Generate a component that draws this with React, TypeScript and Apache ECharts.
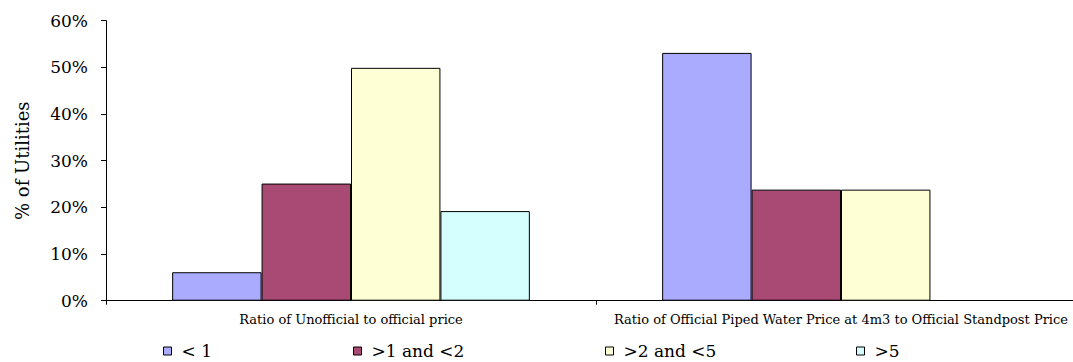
import React, { useEffect, useRef } from "react";
import * as echarts from "echarts";

const categories = [
  "Ratio of Unofficial to official price",
  "Ratio of Official Piped Water Price at 4m3 to Official Standpost Price",
];
const seriesNames = ["< 1", ">1 and <2", ">2 and <5", ">5"];
const lessThan1 = [6.1, 53.1];
const between1and2 = [25.1, 23.8];
const between2and5 = [49.9, 23.8];
const above5 = [19.2, 0];
const yTicks = [0, 10, 20, 30, 40, 50, 60];

const colors = ["#AAAAFF", "#A94A74", "#FFFFD5", "#D5FFFF"];
const FONT = "DejaVu Serif";

export default function App() {
  const ref = useRef<HTMLDivElement>(null);
  useEffect(() => {
    if (!ref.current) return;
    const chart = echarts.init(ref.current, undefined, { renderer: "svg" });
    const values = [lessThan1, between1and2, between2and5, above5];
    const legendLefts = [163, 353, 605, 856];
    chart.setOption({
      animation: false,
      textStyle: { fontFamily: FONT, color: "#000" },
      grid: { left: 106, top: 20.7, bottom: 61.3, right: 0, containLabel: false },
      legend: seriesNames.map((n, i) => ({
        data: [n],
        left: legendLefts[i],
        top: 342,
        icon: "rect",
        itemWidth: 8,
        itemHeight: 8,
        itemGap: 5,
        padding: 0,
        textStyle: { fontFamily: FONT, fontSize: 17, lineHeight: 17, color: "#000", padding: [1, 0, 0, 5] },
        itemStyle: { borderColor: "#000", borderWidth: 1 },
      })),
      xAxis: {
        type: "category",
        data: categories,
        axisLine: { lineStyle: { color: "#000", width: 1 } },
        axisTick: { show: true, length: 4, lineStyle: { color: "#000" } },
        axisLabel: { fontFamily: FONT, fontSize: 13, color: "#000", margin: 12, interval: 0, hideOverlap: false },
      },
      yAxis: {
        type: "value",
        min: 0,
        max: 60,
        interval: 10,
        name: "% of Utilities",
        nameLocation: "middle",
        nameGap: 75,
        nameTextStyle: { fontFamily: FONT, fontSize: 18, color: "#000" },
        axisLine: { show: true, lineStyle: { color: "#000", width: 1 } },
        axisTick: { show: true, length: 5, lineStyle: { color: "#000" } },
        splitLine: { show: false },
        axisLabel: {
          fontFamily: FONT,
          fontSize: 17,
          color: "#000",
          margin: 18,
          formatter: (v: number) => (yTicks.includes(v) ? v + "%" : ""),
        },
      },
      series: seriesNames.map((n, i) => ({
        name: n,
        type: "bar",
        data: values[i].map((v) => (v === 0 ? "-" : v)),
        barGap: "0%",
        barCategoryGap: "27%",
        itemStyle: { color: colors[i], borderColor: "#000", borderWidth: 1 },
      })),
    });
    return () => chart.dispose();
  }, []);
  return (
    <div style={{ position: "absolute", left: 0, top: 0, width: 1073, height: 362, overflow: "hidden", background: "#fff" }}>
      <div ref={ref} style={{ width: 1086, height: 362 }} />
    </div>
  );
}
